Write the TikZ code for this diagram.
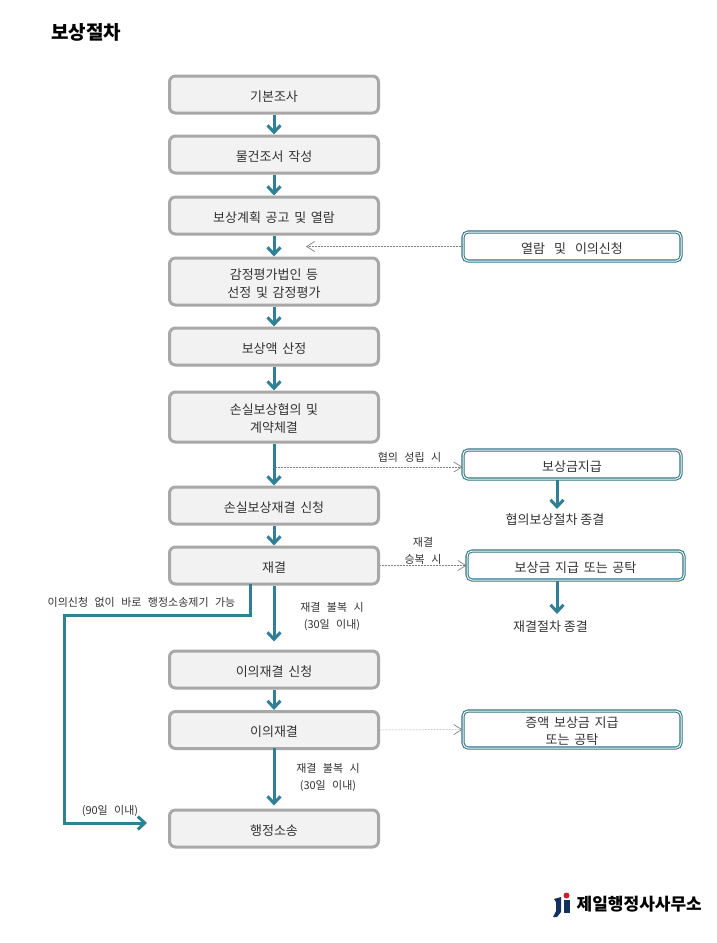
\documentclass[tikz,border=0pt]{standalone}
\usepackage{fontspec}
\setmainfont{Noto Sans CJK KR}
\newfontfamily\labfont[WordSpace=2.6]{Noto Sans CJK KR}
\newcommand\st{\vrule width 0pt height 14.5pt depth 0pt\relax}
\newcommand\gp{\hspace{4.7pt}}
\usetikzlibrary{arrows.meta}
\definecolor{tealline}{HTML}{317F95}
\definecolor{sideline}{HTML}{2F7585}
\definecolor{graybd}{HTML}{A8A8A8}
\definecolor{grayfill}{HTML}{F2F2F2}
\definecolor{txt}{HTML}{333333}
\definecolor{navy}{HTML}{14305F}
\definecolor{reddot}{HTML}{C8202F}
\tikzset{
  flowbox/.style={draw=graybd,fill=grayfill,line width=3pt,rounded corners=6pt,minimum width=209pt,align=center,font=\fontsize{13}{18}\selectfont,text=txt,inner sep=0pt},
  sidebox/.style={draw=sideline,double=white,double distance=1pt,line width=1.05pt,rounded corners=5pt,align=center,font=\fontsize{13}{17}\selectfont,text=txt,inner sep=0pt,fill=white},
  flowarrow/.style={draw=tealline,line width=3pt,-{Straight Barb[length=7pt,width=13pt,line width=3pt]}},
  thinarrow/.style={draw=gray,line width=.5pt,densely dotted,-{Straight Barb[length=8pt,width=10pt,line width=.7pt]}},
  lab/.style={font=\labfont\fontsize{11}{17}\selectfont,text=txt,align=center,inner sep=0pt},
  endlab/.style={font=\fontsize{13}{15}\selectfont,text=txt,align=center,inner sep=0pt}
}
\begin{document}
\begin{tikzpicture}[x=1pt,y=-1pt]
\useasboundingbox[fill=white] (0,0) rectangle (716,943);
\node[anchor=west,inner sep=0pt,font=\fontsize{19}{22}\selectfont\bfseries,text=black] (title) at (51,32) {보상절차};

\node[flowbox,minimum height=37pt] (a) at (274,94.5) {\st 기본조사};
\node[flowbox,minimum height=37pt] (b) at (274,154.5) {\st 물건조서\gp 작성};
\node[flowbox,minimum height=37pt] (c) at (274,215.5) {\st 보상계획\gp 공고\gp 및\gp 열람};
\node[flowbox,minimum height=47pt] (d) at (274,281.5) {\st 감정평가법인\gp 등\\선정\gp 및\gp 감정평가};
\node[flowbox,minimum height=37pt] (e) at (274,346.5) {\st 보상액\gp 산정};
\node[flowbox,minimum height=50pt] (f) at (274,417) {\st 손실보상협의\gp 및\\계약체결};
\node[flowbox,minimum height=37pt] (g) at (274,505.5) {\st 손실보상재결\gp 신청};
\node[flowbox,minimum height=37pt] (h) at (274,565.5) {\st 재결};
\node[flowbox,minimum height=37pt] (i) at (274,669.5) {\st 이의재결\gp 신청};
\node[flowbox,minimum height=37pt] (j) at (274,730) {\st 이의재결};
\node[flowbox,minimum height=37pt] (k) at (274,828.5) {\st 행정소송};

\node[sidebox,minimum width=218pt,minimum height=29pt] (s1) at (572,246.5) {\st 열람\hspace{9pt}및\hspace{9pt}이의신청};
\node[sidebox,minimum width=218pt,minimum height=29pt] (s2) at (572,464.5) {\st 보상금지급};
\node[sidebox,minimum width=217pt,minimum height=29pt] (s3) at (575.5,565.5) {\st 보상금\gp 지급\gp 또는\gp 공탁};
\node[sidebox,minimum width=218pt,minimum height=37pt] (s4) at (572,729.5) {\st 증액\gp 보상금\gp 지급\\또는\gp 공탁};

\node[endlab] (e1) at (555,520) {협의보상절차 종결};
\node[endlab] (e2) at (550.5,627) {재결절차 종결};

\node[lab] (l1) at (409.5,457.5) {협의 성립 시};
\node[lab] (l2) at (423,550.5) {재결\\승복 시};
\node[lab] (l3) at (141.5,602.5) {이의신청 없이 바로 행정소송제기 가능};
\node[lab] (l4) at (332,616.5) {재결 불복 시\\(30일 이내)};
\node[lab] (l5) at (328,777.5) {재결 불복 시\\(30일 이내)};
\node[lab] (l6) at (110,811.5) {(90일 이내)};

\draw[flowarrow] (a) -- (b);
\draw[flowarrow] (b) -- (c);
\draw[flowarrow] (c) -- (d);
\draw[flowarrow] (d) -- (e);
\draw[flowarrow] (e) -- (f);
\draw[flowarrow] (f) -- (g);
\draw[flowarrow] (g) -- (h);
\draw[flowarrow] (h.south) -- ([yshift=8pt]i.north);
\draw[flowarrow] (i) -- (j);
\draw[flowarrow] ([yshift=2pt]j.south) -- ([yshift=3pt]k.north);
\coordinate (t2) at (557,480);
\coordinate (t3) at (557,581);
\coordinate (t2e) at (557,509);
\coordinate (t3e) at (557,614);
\draw[flowarrow] (t2) -- (t2e);
\draw[flowarrow] (t3) -- (t3e);

\coordinate (u1) at (306,246.5);
\draw[thinarrow] (s1.west) -- (u1);
\coordinate (u2) at (276,467);
\draw[thinarrow] (u2) -- (s2.west |- u2);
\draw[thinarrow] (h.east) -- (s3.west);
\draw[thinarrow] (j.east) -- (s4.west);

\coordinate (v1) at (250,584);
\coordinate (v2) at (250,615);
\coordinate (v3) at (64.5,615);
\coordinate (v4) at (64.5,823);
\coordinate (v5) at (147,823);
\draw[flowarrow,line join=miter] (v1) -- (v2) -- (v3) -- (v4) -- (v5);

% logo
\fill[navy] (554,899) -- (561,897) -- (561,912) -- (557,917) -- (553,917) -- (556,911) -- (556,902) -- cycle;
\fill[navy] (563.5,900) -- (570,900) -- (570,912.5) -- (563.5,912.5) -- cycle;
\fill[reddot] (566.5,895.5) circle (3pt);
\node[anchor=west,inner sep=0pt,font=\fontsize{17}{18}\selectfont\bfseries,text=black] (logo) at (576.5,904) {제일행정사사무소};
\end{tikzpicture}
\end{document}
